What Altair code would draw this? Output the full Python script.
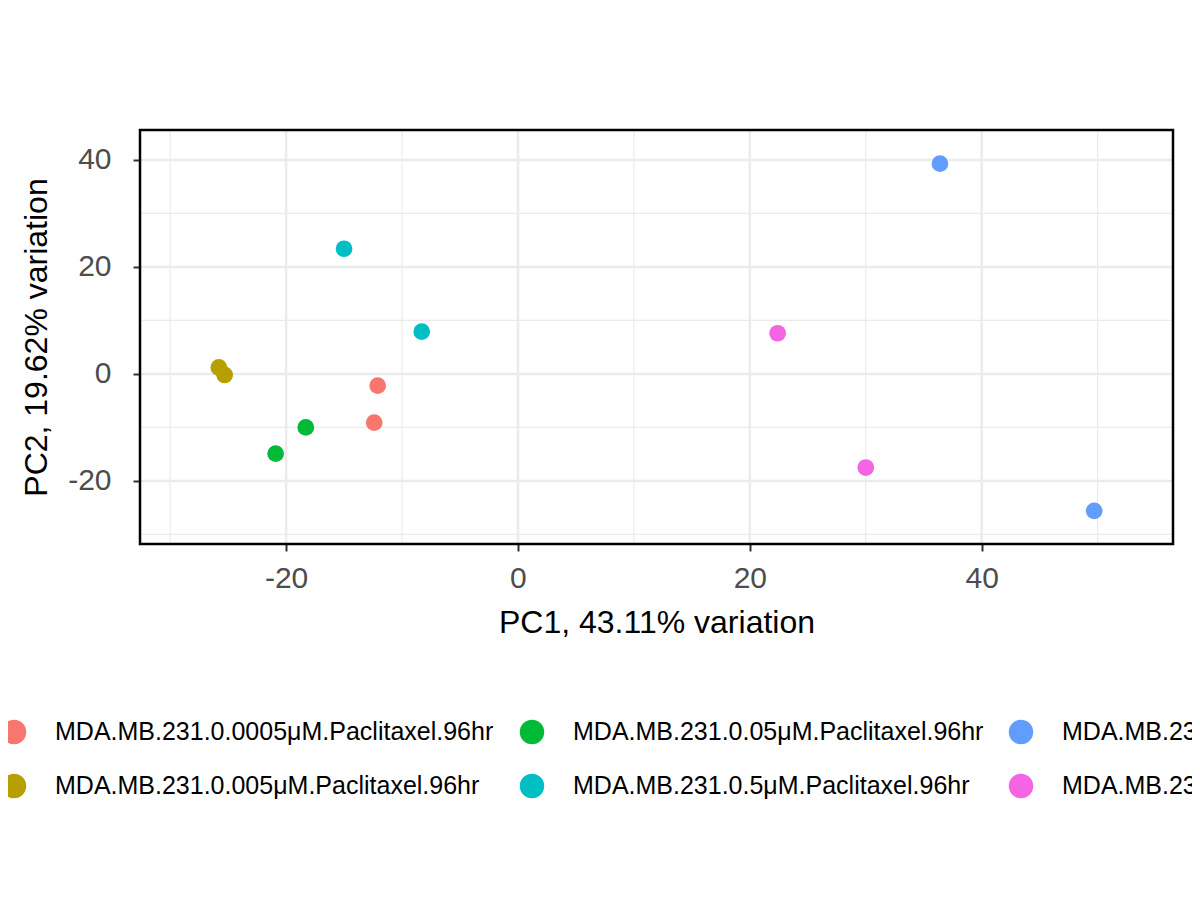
import pandas as pd
import altair as alt

groups = [
    "MDA.MB.231.0.0005μM.Paclitaxel.96hr",
    "MDA.MB.231.0.005μM.Paclitaxel.96hr",
    "MDA.MB.231.0.05μM.Paclitaxel.96hr",
    "MDA.MB.231.0.5μM.Paclitaxel.96hr",
    "MDA.MB.231.5μM.Paclitaxel.96hr",
    "MDA.MB.231.DMSO.96hr",
]
colors = ["#F8766D", "#B79F00", "#00BA38", "#00BFC4", "#619CFF", "#F564E3"]

sample_group = [0, 0, 1, 1, 2, 2, 3, 3, 4, 4, 5, 5]
pc1 = [-12.1, -12.4, -25.8, -25.3, -18.3, -20.9, -15.0, -8.3, 36.4, 49.7, 22.4, 30.0]
pc2 = [-2.2, -9.1, 1.2, -0.2, -10.0, -14.9, 23.4, 7.9, 39.3, -25.6, 7.6, -17.5]

x_major = [-20, 0, 20, 40]
x_minor = [-30, -10, 10, 30, 50]
y_major = [-20, 0, 20, 40]
y_minor = [-30, -10, 10, 30]

W, H = 1033, 414

pts = pd.DataFrame({"PC1": pc1, "PC2": pc2, "group": [groups[g] for g in sample_group]})
leg = pd.DataFrame({"group": groups, "col": [i // 2 for i in range(6)], "row": [i % 2 for i in range(6)]})

xs = alt.Scale(domain=[-32.6, 56.5], nice=False, zero=False)
ys = alt.Scale(domain=[-31.8, 45.6], nice=False, zero=False)
cs = alt.Scale(domain=groups, range=colors)
font = "Liberation Sans"

def grid(vals, ch, w):
    d = pd.DataFrame({"v": vals})
    enc = {ch: alt.X("v:Q", scale=xs) if ch == "x" else alt.Y("v:Q", scale=ys)}
    return alt.Chart(d).mark_rule(color="#EBEBEB", strokeWidth=w).encode(**enc)

grids = (grid(x_minor, "x", 1.2) + grid(y_minor, "y", 1.2)
         + grid(x_major, "x", 2.5) + grid(y_major, "y", 2.5))

def axis(pad, tpad):
    return alt.Axis(values=x_major, grid=False, labelFontSize=30, titleFontSize=32,
                    labelColor="#4D4D4D", titleColor="black", tickColor="#333333",
                    tickSize=7, tickWidth=2, domain=False, labelPadding=pad,
                    titlePadding=tpad,
                    labelExpr="replace(format(datum.value, 'd'), '−', '-')",
                    labelFont=font, titleFont=font, titleFontWeight="normal")

points = alt.Chart(pts).mark_circle(size=280, opacity=1).encode(
    x=alt.X("PC1:Q", scale=xs, title="PC1, 43.11% variation", axis=axis(12, 14)),
    y=alt.Y("PC2:Q", scale=ys, title="PC2, 19.62% variation", axis=axis(22, 14)),
    color=alt.Color("group:N", scale=cs, legend=None),
)

border = alt.Chart(pd.DataFrame({"b": [0]})).mark_rect(
    fill=None, stroke="black", strokeWidth=2.5
).encode(x=alt.value(0), x2=alt.value(W), y=alt.value(0), y2=alt.value(H))

lx = alt.Scale(domain=[0, 1, 2], range=[14 - 140, 532 - 140, 1021 - 140])
ly = alt.Scale(domain=[0, 1], range=[732 - 130, 786 - 130])
leg_dots = alt.Chart(leg).mark_circle(size=600, opacity=1, clip=False).encode(
    x=alt.X("col:Q", scale=lx, axis=None),
    y=alt.Y("row:Q", scale=ly, axis=None),
    color=alt.Color("group:N", scale=cs, legend=None),
)
leg_text = alt.Chart(leg).mark_text(align="left", baseline="middle", dx=41, fontSize=25,
                                    font=font, color="black", clip=False).encode(
    x=alt.X("col:Q", scale=lx, axis=None),
    y=alt.Y("row:Q", scale=ly, axis=None),
    text="group:N",
)

main = alt.layer(grids, points, border)
legend = alt.layer(leg_dots, leg_text)

chart = alt.layer(main, legend).resolve_scale(x="independent", y="independent").properties(
    width=W, height=H,
    autosize=alt.AutoSizeParams(type="none"),
    padding={"left": 132, "top": 122, "right": 19, "bottom": 348},
).configure_view(stroke=None).configure(background="white")

chart.save("out.html", embed_options={"renderer": "svg", "actions": False})
